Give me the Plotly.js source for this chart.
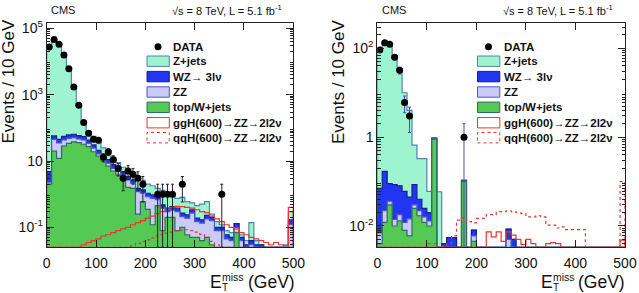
<!DOCTYPE html>
<html>
<head>
<meta charset="utf-8">
<script src="https://cdn.plot.ly/plotly-3.0.1.min.js"></script>
<style>
  html, body { margin: 0; padding: 0; background: #fff; }
  #chart { width: 639px; height: 293px; }
</style>
</head>
<body>
<div id="chart"></div>
<script>
// Missing transverse energy distributions, 10 GeV bins from 0 to 500 GeV.
const binLow = Array.from({ length: 50 }, (_, i) => i * 10);

// ---------------- left selection ----------------
const dataLeft = [27500, 46000, 33000, 15600, 6000, 1700, 480, 144, 69, 45,
  42, 13, 19, 11, 6, 3, 5, 4, 3, 2,
  0, 0, 1, 1, 1, 1, 0, 2, 0, 0,
  0, 0, 0, 0, 0, 1, 0, 0, 0, 0,
  0, 0, 0, 0, 0, 0, 0, 0, 0, 0];
const zjetsLeft = [26995, 46943, 34955, 15945, 5939, 1736, 442, 106, 37, 24.5,
  17, 10, 7, 5.4, 2.7, 1.7, 1.6, 1.3, 1.7, 1.25,
  0.93, 0.85, 0.65, 0.82, 0.72, 0.48, 0.37, 0.53, 0.36, 0.21,
  0.26, 0.33, 0.37, 0.05, 0.05, 0.02, 0.02, 0.02, 0, 0.01,
  0.01, 0.1, 0.01, 0, 0, 0, 0, 0, 0.01, 0.13];
const wzLeft = [2.5, 12, 10, 12, 13, 13, 12, 11, 9, 6,
  4.5, 3.2, 2.4, 1.6, 1.3, 1.0, 0.7, 0.55, 0.3, 0.27,
  0.22, 0.2, 0.17, 0.1, 0.08, 0.09, 0.08, 0.06, 0.05, 0.07,
  0.04, 0.035, 0.05, 0.04, 0.02, 0.02, 0.015, 0.01, 0.03, 0.01,
  0.01, 0.01, 0.01, 0.01, 0, 0, 0, 0, 0.005, 0.05];
const zzLeft = [0.3, 25, 23, 15, 14, 13, 10, 11, 7, 5.5,
  2.5, 1.8, 1.6, 1.0, 1.2, 1.2, 1.1, 0.65, 0.95, 0.48,
  0.5, 0.63, 0.23, 0.3, 0.1, 0.13, 0.22, 0.11, 0.13, 0.22,
  0.1, 0.095, 0.13, 0.13, 0.06, 0.06, 0.025, 0.02, 0.03, 0.02,
  0.02, 0.03, 0.02, 0.02, 0, 0, 0, 0, 0.015, 0.12];
const topWLeft = [2.0, 20, 12, 28, 34, 38, 36, 32, 27, 19,
  14, 10, 7, 5, 3.8, 2.6, 1.6, 1.5, 0.25, 0.6,
  0.35, 0.12, 0.45, 0.08, 0.2, 0.2, 0.08, 0.1, 0.06, 0.05,
  0.05, 0.04, 0.05, 0.03, 0.02, 0.02, 0.02, 0.02, 0.07, 0.02,
  0, 0, 0, 0, 0, 0, 0, 0, 0, 0];
const ggHLeft = [0, 0, 0, 0, 0, 0, 0, 0.03, 0.035, 0.04,
  0.045, 0.055, 0.06, 0.07, 0.08, 0.09, 0.1, 0.12, 0.14, 0.16,
  0.19, 0.22, 0.26, 0.3, 0.35, 0.4, 0.43, 0.42, 0.4, 0.38,
  0.34, 0.3, 0.28, 0.22, 0.18, 0.15, 0.12, 0.1, 0.09, 0.07,
  0.06, 0.05, 0.045, 0.04, 0.035, 0.03, 0.035, 0.03, 0.028, 0.4];
const qqHLeft = [0, 0, 0, 0, 0, 0, 0, 0, 0, 0,
  0, 0, 0, 0, 0, 0, 0, 0.028, 0.033, 0.038,
  0.042, 0.048, 0.055, 0.06, 0.066, 0.072, 0.078, 0.082, 0.085, 0.08,
  0.072, 0.062, 0.05, 0.038, 0.03, 0, 0, 0, 0, 0,
  0, 0, 0, 0, 0, 0, 0, 0, 0, 0];

// ---------------- right selection ----------------
const dataRight = [92, 134, 123, 63, 32, 6, 3, 0, 0, 0,
  0, 0, 0, 0, 0, 0, 0, 1, 0, 0,
  0, 0, 0, 0, 0, 0, 0, 0, 0, 0,
  0, 0, 0, 0, 0, 0, 0, 0, 0, 0,
  0, 0, 0, 0, 0, 0, 0, 0, 0, 0];
const zjetsRight = [97.9, 136.8, 129.9, 68.9, 34.9, 9.94, 3.96, 0.575, 0.29, 0.305,
  0.04, 0, 0.059, 0, 0, 0, 0, 0, 0, 0,
  0, 0, 0, 0, 0, 0, 0, 0, 0, 0,
  0, 0, 0, 0, 0, 0, 0, 0, 0, 0,
  0, 0, 0, 0, 0, 0, 0, 0, 0, 0];
const wzRight = [0.063, 0.148, 0.054, 0.071, 0.062, 0.048, 0.03, 0.055, 0.018, 0.009,
  0.007, 0.04, 0, 0.003, 0.0025, 0.0035, 0, 0.004, 0, 0.0021,
  0, 0, 0, 0, 0, 0, 0.0035, 0.003, 0, 0,
  0, 0, 0, 0, 0, 0, 0, 0, 0, 0,
  0, 0, 0, 0, 0, 0, 0, 0, 0, 0];
const zzRight = [0.003, 0.01, 0.006, 0.004, 0.005, 0.004, 0.0085, 0.005, 0.005, 0.004,
  0.003, 0.01, 0, 0.001, 0.003, 0.002, 0, 0.003, 0, 0.0015,
  0, 0, 0, 0, 0, 0, 0.005, 0.002, 0, 0,
  0, 0, 0, 0, 0, 0, 0, 0, 0, 0,
  0, 0, 0, 0, 0, 0, 0, 0, 0, 0];
const topWRight = [0.004, 0.012, 0.03, 0.01, 0.013, 0.008, 0.006, 0.025, 0.017, 0.012,
  0.01, 0.9, 0, 0, 0, 0, 0, 0.1, 0, 0.0045,
  0, 0, 0, 0, 0, 0, 0, 0, 0, 0,
  0, 0, 0, 0, 0, 0, 0, 0, 0, 0,
  0, 0, 0, 0, 0, 0, 0, 0, 0, 0];
const ggHRight = [0, 0, 0, 0, 0, 0, 0, 0, 0, 0,
  0, 0, 0, 0, 0, 0, 0, 0, 0, 0,
  0, 0, 0.0074, 0.0057, 0.0074, 0.0045, 0.0074, 0.0062, 0.005, 0.0038,
  0.005, 0.004, 0, 0, 0.004, 0.0042, 0.004, 0, 0, 0,
  0, 0, 0, 0, 0, 0, 0, 0, 0, 0.0048];
const qqHRight = [0, 0, 0, 0, 0, 0, 0, 0, 0, 0,
  0.004, 0.004, 0, 0.0035, 0.004, 0.006, 0.0135, 0.015, 0.0125, 0.0118,
  0.0148, 0.0148, 0.018, 0.018, 0.021, 0.021, 0.022, 0.021, 0.02, 0.019,
  0.016, 0.016, 0.017, 0.016, 0.0105, 0.0105, 0.009, 0.0095, 0.0083, 0.0083,
  0.0083, 0.0083, 0, 0, 0, 0, 0, 0, 0, 0.1];

// Tick labels (odd decades on the left panel, even decades on the right)
const tickValsLeft = [0.1, 10, 1e3, 1e5];
const tickLabelsLeft = ['10<sup>-1</sup>', '10', '10<sup>3</sup>', '10<sup>5</sup>'];
const tickValsRight = [0.01, 1, 100];
const tickLabelsRight = ['10<sup>-2</sup>', '1', '10<sup>2</sup>'];
const legendLabels = ['DATA', 'Z+jets', 'WZ\u2192 3l\u03bd', 'ZZ', 'top/W+jets',
  'ggH(600)\u2192ZZ\u21922l2\u03bd', 'qqH(600)\u2192ZZ\u21922l2\u03bd'];

// ---------------- styling ----------------
const FONT = 'Liberation Sans, Arial, Helvetica, sans-serif';
const COL = {
  zjets: { fill: '#9ff4d0', line: '#4d84b2' },
  wz:    { fill: '#2236f2', line: '#16228c' },
  zz:    { fill: '#cbcbf7', line: '#4d57c6' },
  topW:  { fill: '#54c954', line: '#2f6d66' },
  sig:   '#e8372f'
};
const W = 639, H = 293;
const PX = v => v / W;
const PY = v => 1 - v / H;
const PLOT_TOP = 23.3, PLOT_BOTTOM = 247.3;

function add(a, b) { return a.map((v, i) => v + b[i]); }

// Step outline of a histogram, closed down to the axis floor at both ends.
function steps(vals, floor) {
  const x = [0], y = [floor];
  vals.forEach((v, i) => { x.push(binLow[i]); y.push(Math.max(v, floor)); });
  x.push(500, 500);
  y.push(Math.max(vals[vals.length - 1], floor), floor);
  return { x, y };
}

function panel(p, xa, ya, floor, errColor) {
  const zzTop = add(p.topW, p.zz);
  const wzTop = add(zzTop, p.wz);
  const total = add(wzTop, p.zjets);
  const traces = [];
  [[total, COL.zjets], [wzTop, COL.wz], [zzTop, COL.zz], [p.topW, COL.topW]].forEach(([vals, c]) => {
    const s = steps(vals, floor);
    traces.push({
      type: 'scatter', mode: 'lines', x: s.x, y: s.y, xaxis: xa, yaxis: ya,
      line: { shape: 'hv', color: c.line, width: 1.2 },
      fill: 'tozeroy', fillcolor: c.fill, hoverinfo: 'skip', showlegend: false
    });
  });
  [[p.ggH, 'solid'], [p.qqH, 'dot']].forEach(([vals, dash]) => {
    const s = steps(vals, floor);
    traces.push({
      type: 'scatter', mode: 'lines', x: s.x, y: s.y, xaxis: xa, yaxis: ya,
      line: { shape: 'hv', color: COL.sig, width: 1.2, dash: dash },
      hoverinfo: 'skip', showlegend: false
    });
  });
  const cx = [], cy = [], eUp = [], eDn = [];
  p.data.forEach((n, i) => {
    if (n > 0) {
      cx.push(binLow[i] + 5); cy.push(n);
      const e = Math.sqrt(n);
      eUp.push(e);
      eDn.push(n - Math.max(n - e, floor));
    }
  });
  traces.push({
    type: 'scatter', mode: 'markers', x: cx, y: cy, xaxis: xa, yaxis: ya,
    marker: { color: '#000', size: 7 },
    error_y: { type: 'data', symmetric: false, array: eUp, arrayminus: eDn,
               color: errColor, thickness: 1, width: 1.5 },
    hoverinfo: 'skip', showlegend: false
  });
  return traces;
}

const rangeLeft = [-1.6, 5.15];
const rangeRight = [-2.48, 2.563];
const floorLeft = Math.pow(10, rangeLeft[0]);
const floorRight = Math.pow(10, rangeRight[0]);

const traces = [].concat(
  panel({ data: dataLeft, zjets: zjetsLeft, wz: wzLeft, zz: zzLeft, topW: topWLeft,
          ggH: ggHLeft, qqH: qqHLeft }, 'x', 'y', floorLeft, '#222'),
  panel({ data: dataRight, zjets: zjetsRight, wz: wzRight, zz: zzRight, topW: topWRight,
          ggH: ggHRight, qqH: qqHRight }, 'x2', 'y2', floorRight, '#4a4aa8')
);

function minorVals(d0, d1) {
  const out = [];
  for (let d = d0; d <= d1; d++) for (let m = 2; m <= 9; m++) out.push(m * Math.pow(10, d));
  return out;
}

const frame = {
  showline: true, linecolor: '#222', linewidth: 1, mirror: 'ticks',
  ticks: 'inside', ticklen: 7, tickcolor: '#222', tickwidth: 1,
  showgrid: false, zeroline: false, layer: 'above traces',
  tickfont: { family: FONT, size: 14, color: '#111' }
};
const xFrame = Object.assign({}, frame, {
  range: [0, 500], tickmode: 'array', tickvals: [0, 100, 200, 300, 400, 500],
  ticklabelstandoff: 3
});
// Unlabelled decade ticks sit on an overlaid axis sharing the same range.
const decadeTicks = (range, vals, anchor, over) => ({
  type: 'log', range: range, overlaying: over, anchor: anchor, side: 'left',
  tickmode: 'array', tickvals: vals, showticklabels: false,
  ticks: 'inside', ticklen: 7, tickcolor: '#222', tickwidth: 1, mirror: 'ticks',
  showline: false, showgrid: false, zeroline: false, layer: 'above traces'
});

const layout = {
  width: W, height: H,
  margin: { l: 0, r: 0, t: 0, b: 0 },
  paper_bgcolor: '#fff', plot_bgcolor: '#fff',
  showlegend: false,
  xaxis: Object.assign({}, xFrame, { domain: [PX(46.7), PX(293.3)], anchor: 'y' }),
  xaxis2: Object.assign({}, xFrame, { domain: [PX(377.3), PX(625)], anchor: 'y2' }),
  yaxis: Object.assign({}, frame, {
    type: 'log', range: rangeLeft, domain: [PY(PLOT_BOTTOM), PY(PLOT_TOP)], anchor: 'x',
    tickmode: 'array', tickvals: tickValsLeft, ticktext: tickLabelsLeft,
    minor: { ticks: 'inside', ticklen: 3.5, tickcolor: '#222', tickmode: 'array', tickvals: minorVals(-2, 5) }
  }),
  yaxis2: Object.assign({}, frame, {
    type: 'log', range: rangeRight, domain: [PY(PLOT_BOTTOM), PY(PLOT_TOP)], anchor: 'x2',
    tickmode: 'array', tickvals: tickValsRight, ticktext: tickLabelsRight,
    minor: { ticks: 'inside', ticklen: 3.5, tickcolor: '#222', tickmode: 'array', tickvals: minorVals(-3, 2) }
  }),
  yaxis3: decadeTicks(rangeLeft, [1, 100, 1e4], 'x', 'y'),
  yaxis4: decadeTicks(rangeRight, [0.1, 10], 'x2', 'y2'),
  shapes: [],
  annotations: []
};

function text(str, x, y, size, opts) {
  layout.annotations.push(Object.assign({
    text: str, xref: 'paper', yref: 'paper', x: PX(x), y: PY(y),
    xanchor: 'left', yanchor: 'middle', showarrow: false,
    font: { family: FONT, size: size, color: '#111' }
  }, opts || {}));
}

const rows = [46.7, 61.2, 76.6, 92.0, 107.3, 122.7, 137.7];
const boxStyles = [null, COL.zjets, COL.wz, COL.zz, COL.topW,
  { fill: '#fff', line: COL.sig, dash: 'solid' }, { fill: '#fff', line: COL.sig, dash: 'dot' }];

[0, 330.5].forEach(ox => {
  // header
  text('CMS', 49 + ox, 10.5, 11);
  text('\u221as = 8 TeV, L = 5.1 fb<sup>-1</sup>', 170 + ox, 10.5, 11);
  // axis titles
  text('Events / 10 GeV', 8.5 + ox, 82, 17, { textangle: -90, xanchor: 'center' });
  text('E', 208 + ox, 282, 17.5);
  text('miss', 220 + ox, 277, 10.5);
  text('T', 220 + ox, 287, 10);
  text('(GeV)', 245.5 + ox, 282, 17.5);
  // legend
  rows.forEach((ry, i) => {
    if (i === 0) {
      layout.shapes.push({ type: 'circle', xref: 'paper', yref: 'paper',
        x0: PX(154.5 + ox), x1: PX(161.5 + ox), y0: PY(ry + 3.5), y1: PY(ry - 3.5),
        fillcolor: '#000', line: { width: 0 } });
    } else {
      const b = boxStyles[i];
      layout.shapes.push({ type: 'rect', xref: 'paper', yref: 'paper',
        x0: PX(147 + ox), x1: PX(169.3 + ox), y0: PY(ry + 5.2), y1: PY(ry - 5.2),
        fillcolor: b.fill, line: { color: b.line, width: 1, dash: b.dash || 'solid' } });
    }
    text(legendLabels[i], 171 + ox, ry, 11.5, { font: { family: FONT, size: 11.5, color: '#111', weight: 'bold' } });
  });
});

Plotly.newPlot('chart', traces, layout, { staticPlot: true, displayModeBar: false });
</script>
</body>
</html>
